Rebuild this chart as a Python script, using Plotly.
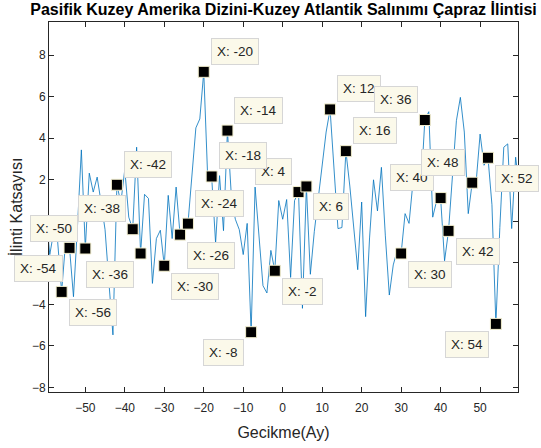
import plotly.graph_objects as go

# gecikme (ay) ve capraz ilinti katsayisi
lags = list(range(-60, 61))
corr = [
    0.4, -1.6, -0.5, -1.0, -3.4, -1.0, -1.28, -3.63, -0.3, 3.44,      # -60..-51
    -1.31, 2.32, 1.41, 2.13, 0.9, -0.4, -3.0, -5.47, 1.76, 0.9,       # -50..-41
    2.5, 0.2, -0.38, 3.57, -1.55, 1.3, 1.1, -2.99, -0.83, -0.43,      # -40..-31
    -2.14, 1.25, -0.83, 1.65, -0.64, -0.3, -0.11, 2.0, 4.5, 4.93,     # -30..-21
    7.2, 2.1, 2.16, -1.05, 2.2, -0.45, 4.37, 1.2, 0.1, -0.4,          # -20..-11
    -1.6, -0.1, -5.34, 1.65, -0.6, -3.1, -3.45, -1.4, -2.38, 1.0,     # -10..-1
    0.1,                                                              # 0
    1.05, -2.7, 1.0, 1.41, -4.19, 1.68, -2.55, -0.5, 1.1, 2.7,        # 1..10
    4.3, 5.39, 2.4, -0.35, -0.3, 3.38, 1.7, -0.3, -2.33, 0.93,        # 11..20
    -4.59, -0.8, 2.0, 0.5, 2.6, -0.7, -3.55, -2.1, -1.4, -1.55,       # 21..30
    0.37, -0.1, 1.9, 1.8, 1.5, 4.88, 5.28, 0.2, 1.0, 1.12,            # 31..40
    -1.9, -0.46, 2.0, 4.85, 5.97, 4.3, 0.37, 1.86, 1.9, 4.2,          # 41..50
    2.7, 3.06, 0.8, -4.94, -0.3, 3.57, 3.73, -0.35, 3.09, 1.5,        # 51..60
]

# veri ipuclari: gecikme ve kutunun yonu (ciz sirasi onemli)
tip_lags = [-56, -54, -50, -42, -38, -36, -30, -26, -24, -20, 4, -18, -14,
            -8, -2, 6, 12, 16, 30, 36, 40, 42, 48, 52, 54]
tip_dirs = ["se", "sw", "nw", "ne", "nw", "sw", "se", "se", "ne", "ne", "nw", "ne", "ne",
            "sw", "se", "se", "ne", "ne", "se", "nw", "nw", "se", "nw", "se", "sw"]

FONT = "Liberation Sans, Arial, Helvetica, sans-serif"
GRAY = "#262626"

tip_y = [corr[lags.index(l)] for l in tip_lags]

fig = go.Figure()

fig.add_trace(go.Scatter(
    x=lags, y=corr, mode="lines",
    line=dict(color="#0072BD", width=0.8),
    showlegend=False, hoverinfo="skip",
))

fig.add_trace(go.Scatter(
    x=tip_lags, y=tip_y, mode="markers",
    marker=dict(symbol="square", size=11, color="black",
                line=dict(color="#f3efcf", width=1)),
    showlegend=False, hoverinfo="skip",
))

for lag, val, d in zip(tip_lags, tip_y, tip_dirs):
    fig.add_annotation(
        x=lag, y=val, text=f"X: {lag}", showarrow=False,
        xanchor="left" if d[1] == "e" else "right",
        yanchor="bottom" if d[0] == "n" else "top",
        xshift=7 if d[1] == "e" else -7,
        yshift=7 if d[0] == "n" else -7,
        bgcolor="#FBF9EA", bordercolor="#D6D6D6", borderwidth=1, borderpad=5,
        font=dict(family=FONT, size=13.5, color=GRAY),
    )

fig.update_layout(
    width=541, height=448,
    margin=dict(l=49, r=23, t=22, b=56),
    paper_bgcolor="white", plot_bgcolor="white",
    title=dict(
        text="<b>Pasifik Kuzey Amerika Dizini-Kuzey Atlantik Salınımı Çapraz İlintisi</b>",
        x=0.5, xref="paper", xanchor="center",
        y=(448 - 9) / 448, yanchor="middle",
        font=dict(family=FONT, size=16, color="black"),
    ),
    font=dict(family=FONT, size=12, color=GRAY),
)

fig.update_xaxes(
    range=[-59.2, 59.6], tickmode="array", tickvals=list(range(-50, 51, 10)),
    showgrid=False, zeroline=False, automargin=False,
    showline=True, linecolor=GRAY, linewidth=1, mirror="ticks",
    ticks="inside", ticklen=5, tickcolor=GRAY, ticklabelstandoff=5,
    tickfont=dict(family=FONT, size=12, color=GRAY),
    title=dict(text="Gecikme(Ay)", font=dict(family=FONT, size=16, color=GRAY), standoff=12),
)
fig.update_yaxes(
    range=[-8.22, 9.6], tickmode="array", tickvals=list(range(-8, 9, 2)),
    showgrid=False, zeroline=False, automargin=False,
    showline=True, linecolor=GRAY, linewidth=1, mirror="ticks",
    ticks="inside", ticklen=5, tickcolor=GRAY,
    tickfont=dict(family=FONT, size=12, color=GRAY),
    title=dict(text="İlinti Katsayısı", font=dict(family=FONT, size=16, color=GRAY), standoff=5),
)

# sayfa kenar boslugunu kaldir, arac cubugunu gizle
fig.write_html("out.html", config={"displayModeBar": False},
               post_script="document.body.style.margin='0';")
